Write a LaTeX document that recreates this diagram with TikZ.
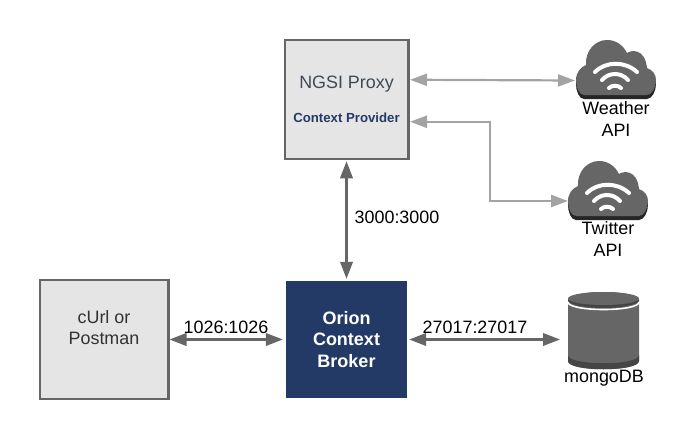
\documentclass[tikz,border=0pt]{standalone}
\usepackage{fontspec}
\setmainfont{Liberation Sans}
\usepackage{xcolor}
\usepackage{tikz}
\usetikzlibrary{calc, positioning, arrows.meta}

\definecolor{boxgray}{HTML}{E5E5E5}
\definecolor{linegray}{HTML}{666666}
\definecolor{rimgray}{HTML}{454545}
\definecolor{lightline}{HTML}{A3A3A3}
\definecolor{orionblue}{HTML}{243A66}
\definecolor{proxytext}{HTML}{3F4A58}

\tikzset{
    plainbox/.style={draw=linegray, line width=2.5pt, fill=boxgray, minimum width=123.5pt, minimum height=119pt, inner sep=0pt, align=center},
    orionbox/.style={fill=orionblue, text=white, minimum width=121pt, minimum height=117pt, inner sep=0pt, align=center, font=\fontsize{18}{21.5}\selectfont\bfseries},
    textlabel/.style={inner sep=0pt, align=center, font=\fontsize{17.9}{21.5}\selectfont},
    darkarrow/.style={draw=linegray, line width=2.2pt, {Triangle[length=17pt,width=12.5pt]}-{Triangle[length=17pt,width=12.5pt]}},
    lightarrow/.style={draw=lightline, line width=2.2pt, {Triangle[length=17pt,width=12pt]}-{Triangle[length=17pt,width=12pt]}},
    pics/cloudicon/.style={code={
        \def\cloudpath{(8,55) .. controls (3,55) and (0,47) .. (0,40) .. controls (0,32) and (5,27) .. (10,25) .. controls (9,11) and (19,0) .. (31,0) .. controls (40,0) and (47,5) .. (51,13) .. controls (55,10) and (69,8) .. (71,28) .. controls (77,30) and (80,35) .. (80,40) .. controls (80,47) and (76,55) .. (71,55) -- cycle}
        \fill[black!85, yshift=-4pt] \cloudpath;
        \fill[linegray] \cloudpath;
        \draw[white, line width=4pt, line cap=round] (19,32) .. controls (30,21) and (49,21) .. (61,32);
        \draw[white, line width=4pt, line cap=round] (26,40) .. controls (33,32) and (45,32) .. (52,40);
        \draw[white, line width=4pt, line cap=round] (33,48) .. controls (36,45) and (42,45) .. (45,48);
    }}
}

\begin{document}
\begin{tikzpicture}[x=1pt, y=-1pt]
    \useasboundingbox (0,0) rectangle (696,439);

    % --- Boxes ---
    \node[plainbox] (proxy) at (346.5,99.5) {{\color{proxytext}\fontsize{17.9}{21.5}\selectfont NGSI Proxy}\\[20pt]{\color{orionblue}\fontsize{13.2}{16}\selectfont\bfseries Context Provider}};
    \node[plainbox, minimum width=128.5pt] (curl) at (104,339.5) {};
    \node[textlabel, text=black!80] (curltext) at (104,327.5) {cUrl or\\Postman};
    \node[orionbox] (orion) at (346.5,339.5) {Orion\\Context\\Broker};

    % --- Clouds and their labels ---
    \pic at (576,40) {cloudicon};
    \pic at (568,161) {cloudicon};
    \node[textlabel] (weather) at (616,119) {Weather\\API};
    \node[textlabel] (twitter) at (608,239) {Twitter\\API};

    % --- Database drum ---
    \fill[linegray] (568,300) -- (568,361) .. controls (568,372) and (639,372) .. (639,361) -- (639,300) -- cycle;
    \fill[rimgray] (568,355) .. controls (568,366) and (639,366) .. (639,355) -- (639,361) .. controls (639,372) and (568,372) .. (568,361) -- cycle;
    \draw[white, line width=1.6pt] (568,302) .. controls (568,312) and (639,312) .. (639,302);
    \fill[rimgray] (603.5,300) ellipse[x radius=35.5, y radius=8];
    \fill[linegray] (603.5,298.5) ellipse[x radius=35.5, y radius=6.5];
    \node[textlabel] (mongo) at (604,378) {mongoDB};

    % --- Connectors ---
    \coordinate (proxytop) at ($(proxy.north east)+(0.5,41)$);
    \coordinate (proxylow) at ($(proxy.north east)+(0.5,83)$);
    \coordinate (weatherin) at (575,80.5);
    \coordinate (twitterin) at (568,201);
    \coordinate (mongoin) at (560,339.5);
    \draw[lightarrow] (proxytop) -- (weatherin);
    \draw[lightarrow] (proxylow) -- ++(80,0) |- (twitterin);
    \draw[darkarrow, shorten <=1pt, shorten >=2pt] (proxy.south) -- (orion.north);
    \draw[darkarrow, shorten >=3pt] (curl.east) -- (orion.west);
    \draw[darkarrow, shorten <=2pt] (orion.east) -- (mongoin);

    % --- Port labels ---
    \node[textlabel] (portproxy) at (397,217) {3000:3000};
    \node[textlabel] (portcurl) at (226,327) {1026:1026};
    \node[textlabel] (portmongo) at (475,327) {27017:27017};
\end{tikzpicture}
\end{document}
